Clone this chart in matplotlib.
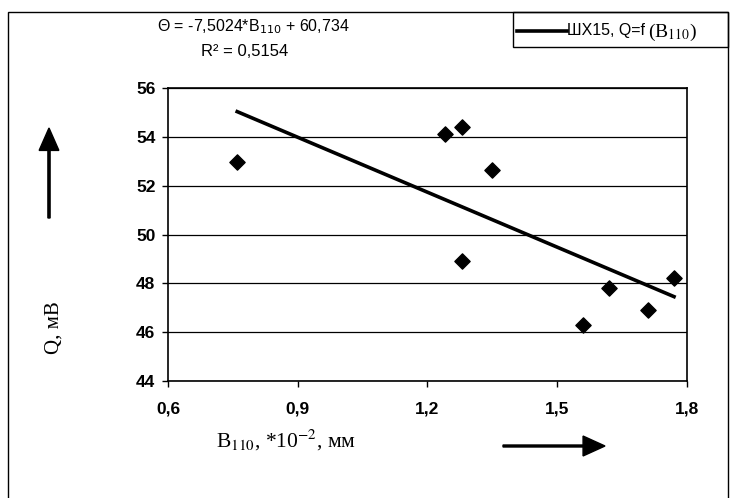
import numpy as np
import matplotlib
matplotlib.use("Agg")
import matplotlib.pyplot as plt
from matplotlib.patches import Rectangle, FancyArrow
from matplotlib.lines import Line2D

# data
b110 = [0.76, 1.24, 1.28, 1.35, 1.28, 1.56, 1.62, 1.71, 1.77]
q_mv = [52.95, 54.1, 54.4, 52.65, 48.9, 46.3, 47.8, 46.9, 48.2]
slope, intercept = -7.5024, 60.734
r2 = 0.5154
x_ticks = [0.6, 0.9, 1.2, 1.5, 1.8]
y_ticks = [44, 46, 48, 50, 52, 54, 56]

W, H = 731, 498
plt.rcParams['font.family'] = ['Liberation Sans', 'DejaVu Sans']

def fx(px):
    return px / W

def fy(py):
    return 1 - py / H

fig = plt.figure(figsize=(W / 100, H / 100), dpi=100)
ax = fig.add_axes([fx(168), fy(381), fx(687) - fx(168), fy(88) - fy(381)])

ax.set_xlim(0.6, 1.8)
ax.set_ylim(44, 56)
ax.set_xticks(x_ticks)
ax.set_yticks(y_ticks)
ax.set_xticklabels([f"{t:.1f}".replace('.', ',') for t in x_ticks])
ax.set_yticklabels([str(t) for t in y_ticks])
ax.tick_params(direction='out', length=4, width=1, labelsize=12.5, pad=5)
ax.xaxis.set_tick_params(pad=11)
for lab in ax.get_xticklabels() + ax.get_yticklabels():
    lab.set_fontweight('bold')
for s in ax.spines.values():
    s.set_linewidth(1.2)
ax.grid(axis='y', color='black', linewidth=0.9)
ax.set_axisbelow(True)

ax.scatter(b110, q_mv, marker='D', s=60, color='black', zorder=3)
xl = np.array([min(b110), max(b110)])
ax.plot(xl, slope * xl + intercept, color='black', linewidth=2.6, zorder=2)

# outer frame
fig.patches.append(Rectangle((fx(8), fy(520)), fx(728) - fx(8), fy(12) - fy(520),
                             transform=fig.transFigure, fill=False,
                             edgecolor='black', linewidth=1))

# equation
fig.text(fx(253), fy(27), "Θ = -7,5024*B$_{110}$ + 60,734",
         ha='center', va='center', fontsize=11.5)
fig.text(fx(245), fy(51), f"R² = {r2}".replace('.', ','), ha='center', va='center',
         fontsize=12)

# legend box
fig.patches.append(Rectangle((fx(513), fy(47)), fx(728) - fx(513), fy(12) - fy(47),
                             transform=fig.transFigure, fill=False,
                             edgecolor='black', linewidth=1))
fig.lines.append(Line2D([fx(517), fx(567)], [fy(31), fy(31)], transform=fig.transFigure,
                        color='black', linewidth=2.6))
fig.text(fx(567), fy(31), "ШХ15, Q=f", ha='left', va='center', fontsize=11.5)
fig.text(fx(648), fy(32), "(B$_{110}$)", ha='left', va='center', fontsize=14,
         family='Liberation Serif', math_fontfamily='stix')

# axis labels
fig.text(fx(54), fy(328), "Q, мВ", rotation=90, ha='center', va='center',
         fontsize=15, family='Liberation Serif')
fig.text(fx(216), fy(440), "B$_{110}$, *10$^{-2}$, мм", ha='left', va='center',
         fontsize=15.5, family='Liberation Serif', math_fontfamily='stix')

# arrows
fig.add_artist(FancyArrow(fx(49), fy(218), 0, fy(128) - fy(218),
               width=0.003, head_width=0.027, head_length=0.045,
               length_includes_head=True, color='black', transform=fig.transFigure))
fig.add_artist(FancyArrow(fx(503), fy(446), fx(605) - fx(503), 0,
               width=0.004, head_width=0.04, head_length=0.03,
               length_includes_head=True, color='black', transform=fig.transFigure))

fig.savefig("out.png", dpi=100)
